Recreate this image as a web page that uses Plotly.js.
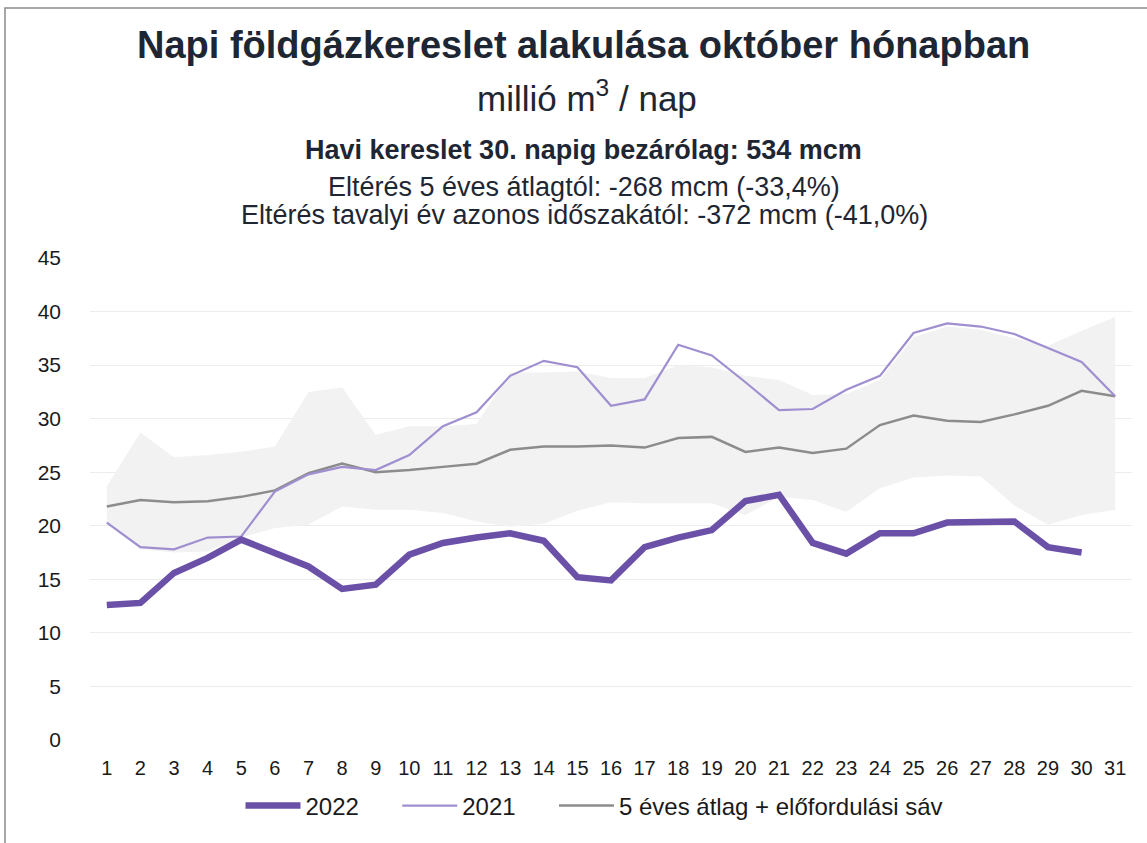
<!DOCTYPE html>
<html>
<head>
<meta charset="utf-8">
<script src="https://cdn.plot.ly/plotly-3.0.1.min.js"></script>
<style>
  html, body { margin: 0; padding: 0; background: #ffffff; overflow: hidden; }
  #chart { width: 1147px; height: 843px; }
</style>
</head>
<body>
<div id="chart"></div>
<script>
// ---- Data ----
const days = [1,2,3,4,5,6,7,8,9,10,11,12,13,14,15,16,17,18,19,20,21,22,23,24,25,26,27,28,29,30,31];
const tickLabels = days.map(String);

const demand2022 = [12.6, 12.8, 15.6, 17.0, 18.7, 17.5, 16.2, 14.1, 14.5, 17.3, 18.4, 18.9, 19.3, 18.6, 15.2,
                    14.9, 18.0, 18.9, 19.6, 22.3, 22.9, 18.4, 17.4, 19.3, 19.3, 20.3, 20.4, 20.4, 18.0, 17.5, null];

const demand2021 = [20.3, 18.0, 17.8, 18.9, 19.0, 23.2, 24.8, 25.5, 25.2, 26.6, 29.3, 30.6, 34.0, 35.4, 34.8,
                    31.2, 31.8, 36.9, 35.9, 33.4, 30.8, 30.9, 32.7, 34.0, 38.0, 38.9, 38.6, 37.9, 36.6, 35.3, 32.1];

const avg5y = [21.8, 22.4, 22.2, 22.3, 22.7, 23.3, 24.9, 25.8, 25.0, 25.2, 25.5, 25.8, 27.1, 27.4, 27.4,
               27.5, 27.3, 28.2, 28.3, 26.9, 27.3, 26.8, 27.2, 29.4, 30.3, 29.8, 29.7, 30.4, 31.2, 32.6, 32.1];

const bandUpper = [23.7, 28.7, 26.4, 26.6, 26.9, 27.4, 32.5, 32.9, 28.5, 29.3, 29.3, 29.5, 34.3, 34.3, 34.4,
                   33.8, 33.8, 35.0, 34.8, 34.0, 33.6, 32.2, 32.3, 33.6, 37.6, 38.6, 38.3, 37.5, 36.8, 38.2, 39.5];

const bandLower = [20.2, 17.8, 17.5, 17.6, 18.9, 19.8, 20.1, 21.8, 21.5, 21.5, 21.2, 20.4, 19.9, 20.2, 21.4,
                   22.2, 22.1, 22.1, 22.1, 21.0, 22.7, 22.4, 21.3, 23.5, 24.5, 24.7, 24.6, 21.9, 20.1, 21.0, 21.5];

const yTicks = [0, 5, 10, 15, 20, 25, 30, 35, 40, 45];

const seriesNames = ["2022", "2021", "5 éves átlag + előfordulási sáv"];

const titleText = "Napi földgázkereslet alakulása október hónapban";
const subtitleText = "millió m<sup>3</sup> / nap";
const summaryText = "Havi kereslet 30. napig bezárólag: 534 mcm";
const diffAvgText = "Eltérés 5 éves átlagtól: -268 mcm (-33,4%)";
const diffPrevText = "Eltérés tavalyi év azonos időszakától: -372 mcm (-41,0%)";

// ---- Layout helpers ----
const W = 1147, H = 843;
const M = {l: 90, r: 15, t: 258, b: 103};
const plotH = H - M.t - M.b;
const plotW = W - M.l - M.r;
const py = px => (H - M.b - px) / plotH;   // pixel y -> paper y
const pxX = px => (px - M.l) / plotW;      // pixel x -> paper x

const FONT = "Liberation Sans, Arial, Helvetica, sans-serif";
const TXT = "#1e2633";
const GAP = "\u00a0\u00a0\u00a0\u00a0\u00a0";

const traces = [
  { x: days, y: bandLower, type: "scatter", mode: "lines",
    line: {width: 0, color: "rgba(0,0,0,0)"}, showlegend: false, hoverinfo: "skip" },
  { x: days, y: bandUpper, type: "scatter", mode: "lines", fill: "tonexty",
    fillcolor: "#f2f2f2", line: {width: 0, color: "rgba(0,0,0,0)"}, showlegend: false, hoverinfo: "skip" },
  { x: days, y: avg5y, type: "scatter", mode: "lines", name: seriesNames[2], legendrank: 3,
    line: {color: "#8c8c8c", width: 2.5} },
  { x: days, y: demand2021, type: "scatter", mode: "lines", name: seriesNames[1] + GAP, legendrank: 2,
    line: {color: "#a08fd0", width: 2.2} },
  { x: days, y: demand2022, type: "scatter", mode: "lines", name: seriesNames[0] + GAP, legendrank: 1,
    line: {color: "#6a50a7", width: 6.5} }
];

const layout = {
  width: W, height: H,
  margin: M,
  paper_bgcolor: "#ffffff",
  plot_bgcolor: "#ffffff",
  font: {family: FONT, color: "#1a1a1a", size: 20},
  showlegend: true,
  legend: {
    orientation: "h", x: pxX(594), xanchor: "center", y: py(806), yanchor: "middle",
    font: {family: FONT, size: 24, color: "#1a1a1a"},
    traceorder: "normal", itemwidth: 55
  },
  xaxis: {
    range: [0.5, 31.5], tickmode: "array", tickvals: days, ticktext: tickLabels,
    showgrid: false, zeroline: false, showline: false, ticks: "",
    ticklabelstandoff: 14, tickfont: {family: FONT, size: 20, color: "#1a1a1a"}
  },
  yaxis: {
    range: [0, 45], tickmode: "array", tickvals: yTicks,
    showgrid: true, gridcolor: "#ececec", gridwidth: 1,
    zeroline: false, showline: false, ticks: "",
    ticklabelstandoff: 28, tickfont: {family: FONT, size: 21, color: "#1a1a1a"}
  },
  annotations: [
    { text: "<b>" + titleText + "</b>", xref: "paper", yref: "paper", x: pxX(583), y: py(45),
      xanchor: "center", yanchor: "middle", showarrow: false, font: {family: FONT, size: 38, color: TXT} },
    { text: subtitleText, xref: "paper", yref: "paper", x: pxX(587), y: py(96),
      xanchor: "center", yanchor: "middle", showarrow: false, font: {family: FONT, size: 35, color: TXT} },
    { text: "<b>" + summaryText + "</b>", xref: "paper", yref: "paper", x: pxX(583), y: py(150),
      xanchor: "center", yanchor: "middle", showarrow: false, font: {family: FONT, size: 27, color: TXT} },
    { text: diffAvgText, xref: "paper", yref: "paper", x: pxX(584), y: py(187),
      xanchor: "center", yanchor: "middle", showarrow: false, font: {family: FONT, size: 27, color: TXT} },
    { text: diffPrevText, xref: "paper", yref: "paper", x: pxX(584), y: py(215),
      xanchor: "center", yanchor: "middle", showarrow: false, font: {family: FONT, size: 27, color: TXT} }
  ],
  shapes: [
    { type: "rect", xref: "paper", yref: "paper",
      x0: pxX(5), x1: pxX(1200), y0: py(900), y1: py(8),
      line: {color: "#8a8a8a", width: 1.5}, fillcolor: "rgba(0,0,0,0)", layer: "above" }
  ]
};

Plotly.newPlot("chart", traces, layout, {displayModeBar: false, staticPlot: true});
</script>
</body>
</html>
